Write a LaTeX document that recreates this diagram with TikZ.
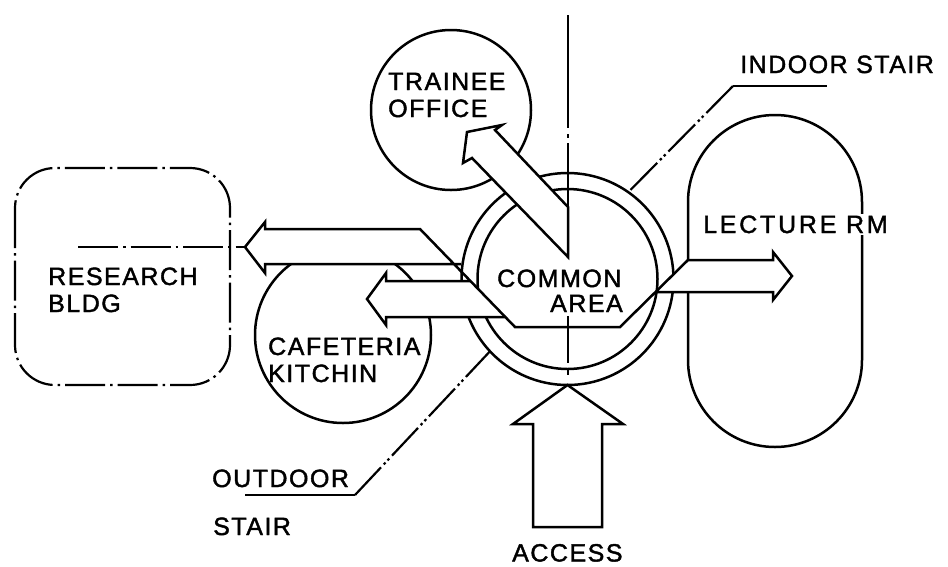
\documentclass[tikz,border=0pt]{standalone}
\usepackage{fontspec}
\newfontfamily\labfont{Liberation Sans}[LetterSpace=6, FakeBold=1.6]
\begin{document}
\begin{tikzpicture}[x=1pt,y=-1pt,
  ln/.style={line width=2.5pt, line join=miter},
  thin/.style={line width=2.2pt},
  ring/.style={circle, draw, line width=2.5pt, inner sep=0pt, outer sep=0pt},
  dd/.style={line width=2.2pt, dash pattern=on 40pt off 5pt on 2.5pt off 5pt},
  ph/.style={line width=2.2pt, dash pattern=on 38pt off 4pt on 2.5pt off 3pt on 2.5pt off 4pt},
  lab/.style={anchor=base west, inner sep=0pt, font=\labfont\fontsize{25}{30}\selectfont},
  labw/.style={lab, fill=white, inner sep=1.5pt}]
\useasboundingbox (0,0) rectangle (948,566);

% rooms
\node[ring, minimum size=160pt] (trainee) at (451,110) {};
\node[ring, minimum size=176pt] (cafe) at (343,335) {};
\node[ring, minimum size=212pt] (outer) at (567.5,279) {};
\node[ring, minimum size=180pt] (inner) at (567.5,279) {};
\draw[ln] (688,360) -- (688,202) arc[start angle=180, end angle=0, radius=87pt]
  -- (862,360) arc[start angle=0, end angle=-180, radius=87pt] -- cycle;
\draw[dd, rounded corners=40pt] (15,168) rectangle (230,385);

% centre line of common area
\draw[thin] (568,15) -- (568,128) (568,134) -- (568,138) (568,143) -- (568,257)
  (568,316) -- (568,363) (568,369) -- (568,375);

% axis through research building
\coordinate (ultip) at (245,247);
\draw[dd] (78,247) -- (ultip);

% flow arrows (white fill hides what lies behind)
\fill[white] (ultip) -- (265,222) -- (265,229) -- (420,229) -- (454,264) -- (265,264) -- (265,273) -- cycle;
\fill[white] (367,299) -- (386,273) -- (386,281) -- (470.5,281) -- (505.5,317) -- (386,317) -- (386,325) -- cycle;
\fill[white] (655.5,292) -- (688,260) -- (773,260) -- (773,252) -- (792,276) -- (773,300) -- (773,292) -- cycle;

\draw[ln] (461,264) -- (265,264) -- (265,273) -- (ultip) -- (265,222) -- (265,229) -- (420,229)
  -- (515,327) -- (620,327) -- (688,260) -- (773,260) -- (773,252) -- (792,276) -- (773,300)
  -- (773,292) -- (655.5,292);
\draw[ln] (470.5,281) -- (386,281) -- (386,273) -- (367,299) -- (386,325) -- (386,317) -- (505.5,317);

\filldraw[ln, fill=white] (568,207) -- (495,130) -- (502,125) -- (467,132) -- (463,163)
  -- (472,158) -- (568,257) -- cycle;

\filldraw[ln, fill=white] (outer.south) -- (623,424) -- (602,424) -- (602,527) -- (533,527)
  -- (533,424) -- (513,424) -- cycle;

% labels
\node[lab] (t1) at (388,90) {TRAINEE};
\node[lab] (t2) at (388,117) {OFFICE};
\node[lab] (t3) at (740,73) {INDOOR STAIR};
\node[lab] (t4) at (48,285) {RESEARCH};
\node[lab] (t5) at (48,312) {BLDG};
\node[labw] (t6) at (266.5,355) {CAFETERIA};
\node[lab] (t7) at (268,382) {KITCHIN};
\node[labw] (t8) at (495.5,287) {COMMON};
\node[labw] (t9) at (548.5,312) {AREA};
\node[labw] (t10) at (701.5,233) {\addfontfeature{LetterSpace=11}LECTURE RM};
\node[lab] (t11) at (212,487) {OUTDOOR};
\node[lab] (t12) at (213,535) {STAIR};
\node[lab] (t13) at (512,561.5) {ACCESS};

% leaders
\coordinate (od) at (355,495);
\coordinate (odend) at (245,495);
\draw[thin] (odend) -- (od);
\draw[ph] (od) -- (outer.223.7);
\coordinate (id) at (733,86);
\coordinate (idend) at (827,86);
\draw[thin] (id) -- (idend);
\draw[ph] (id) -- (outer.55.2);
\end{tikzpicture}
\end{document}
